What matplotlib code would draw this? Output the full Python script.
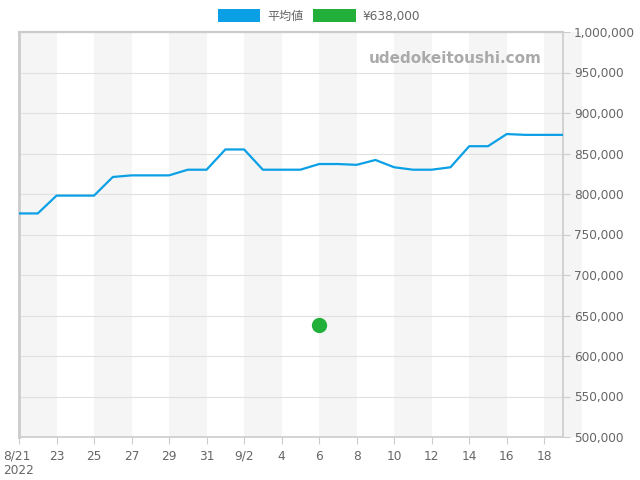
import matplotlib
matplotlib.use("Agg")
import matplotlib.pyplot as plt
import matplotlib.dates as mdates
from matplotlib.patches import Patch
from matplotlib.ticker import FuncFormatter, MultipleLocator
import pandas as pd
import numpy as np

plt.rcParams['font.family'] = ['DejaVu Sans', 'Noto Sans CJK JP']

dates = pd.date_range("2022-08-21", "2022-09-19", freq="D")
avg_values = [776000, 776000, 798000, 798000, 798000, 821000, 823000, 823000,
              823000, 830000, 830000, 855000, 855000, 830000, 830000, 830000,
              837000, 837000, 836000, 842000, 833000, 830000, 830000, 833000,
              859000, 859000, 874000, 873000, 873000, 873000]
point_date = pd.Timestamp("2022-09-06")
point_value = 638000
series_labels = ["平均値", "¥638,000"]
x_tick_labels = ["8/21\n2022", "23", "25", "27", "29", "31", "9/2", "4", "6",
                 "8", "10", "12", "14", "16", "18"]

blue = "#0ba0e6"
green = "#22b03a"
gray_text = "#666666"

fig = plt.figure(figsize=(6.4, 4.8), dpi=100)
ax = fig.add_axes([19/640, 43/480, 544/640, 405/480])

# stripes
start = dates[0]
for k in range(0, 32, 4):
    s = start + pd.Timedelta(days=k)
    e = s + pd.Timedelta(days=2)
    ax.axvspan(mdates.date2num(s), mdates.date2num(e), color="#f5f5f5",
               zorder=0, lw=0, clip_on=False)

ax.plot(mdates.date2num(dates), avg_values, color=blue, lw=1.6, zorder=3)
ax.plot(mdates.date2num(point_date), point_value, 'o', color=green,
        markersize=10, zorder=4)

ax.set_xlim(mdates.date2num(dates[0]), mdates.date2num(dates[-1]))
ax.set_ylim(500000, 1000000)

tick_dates = [dates[0] + pd.Timedelta(days=2*i) for i in range(len(x_tick_labels))]
ax.set_xticks(mdates.date2num(tick_dates))
ax.set_xticklabels(x_tick_labels)
for lbl in ax.get_xticklabels():
    lbl.set_horizontalalignment('center')
ax.get_xticklabels()[0].set_multialignment('left')

ax.yaxis.set_major_locator(MultipleLocator(50000))
ax.yaxis.set_major_formatter(FuncFormatter(lambda v, p: f"{int(v):,}"))
ax.yaxis.tick_right()
ax.tick_params(axis='y', length=5, width=0.8, color="#cccccc", pad=3,
               labelsize=8.7, labelcolor=gray_text)
ax.tick_params(axis='x', length=5, width=0.8, color="#cccccc", pad=4,
               labelsize=8.7, labelcolor=gray_text)
ax.grid(axis='y', color="#e0e0e0", lw=0.8, zorder=1)
ax.set_axisbelow(True)

for sp in ax.spines.values():
    sp.set_color("#cccccc")
    sp.set_linewidth(1.2)
ax.spines['left'].set_linewidth(2)
ax.spines['top'].set_linewidth(1.6)

ax.text(0.96, 0.935, "udedokeitoushi.com", transform=ax.transAxes,
        ha='right', va='center', fontsize=11, fontweight='bold',
        color="#aaaaaa", zorder=5)

handles = [Patch(facecolor=blue, edgecolor='none'),
           Patch(facecolor=green, edgecolor='none')]
fig.legend(handles, series_labels, loc='center', bbox_to_anchor=(319/640, 1 - 16/480),
           ncol=2, frameon=False, fontsize=8.7, labelcolor=gray_text,
           handlelength=3.5, handleheight=1.2, handletextpad=0.6,
           columnspacing=0.8, borderpad=0)

fig.savefig("out.png", dpi=100)
